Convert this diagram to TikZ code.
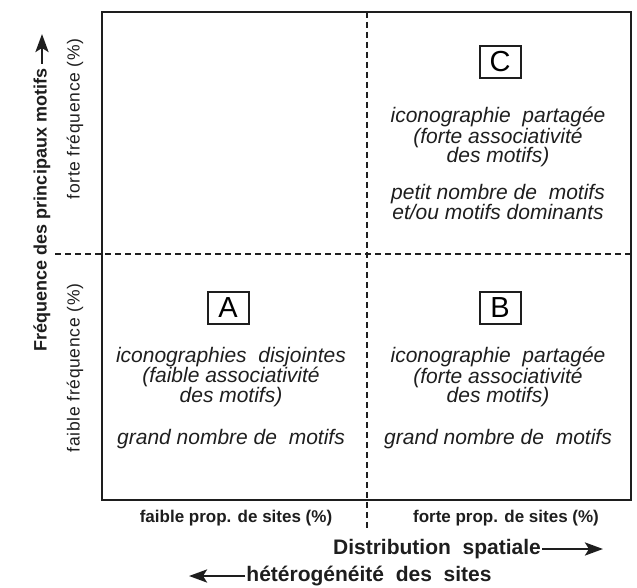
\documentclass[tikz,border=0pt]{standalone}
\usepackage{fontspec}
\setmainfont{Liberation Sans}
\newfontfamily\spacedfont[LetterSpace=4]{Liberation Sans}
\usetikzlibrary{shapes,arrows.meta,positioning}
\definecolor{inkgray}{RGB}{30,30,30}

\tikzset{
  quadrant/.style={draw=inkgray,line width=2pt},
  divider/.style={draw=inkgray,line width=2.4pt,dash pattern=on 6pt off 4pt},
  lettrebox/.style={draw=inkgray,line width=2pt,minimum width=41pt,minimum height=32pt,inner sep=0pt,font=\fontsize{29}{29}\selectfont},
  corps/.style={align=center,text=inkgray,font=\itshape\fontsize{21}{19.8}\selectfont},
  axe/.style={text=inkgray,font=\bfseries\fontsize{21}{21}\selectfont,inner sep=1pt},
  cote/.style={text=inkgray,font=\spacedfont\fontsize{17.5}{17.5}\selectfont},
  echelle/.style={text=inkgray,font=\bfseries\fontsize{17}{17}\selectfont},
  fleche/.style={-{Stealth[length=18pt,width=13pt,inset=4pt]},line width=2.8pt,draw=inkgray}
}

\begin{document}
\begin{tikzpicture}[x=1pt,y=-1pt]
\useasboundingbox (0,0) rectangle (637,588);
% cadre et axes de partage
\draw[quadrant] (102,12) rectangle (631,500);
\draw[divider] (55,254) -- (631,254);
\draw[divider] (367,12) -- (367,530);

% cases A, B, C
\node[lettrebox] (boxC) at (500,62) {C};
\node[corps] (textC1) at (498,137) {iconographie\ \ partagée\\(forte associativité\\des motifs)};
\node[corps] (textC2) at (498,202) {petit nombre de\ \ motifs\\et/ou motifs dominants};

\node[lettrebox] (boxA) at (228,308) {A};
\node[corps] (textA1) at (231,377) {iconographies\ \ disjointes\\(faible associativité\\des motifs)};
\node[corps] (textA2) at (231,439) {grand nombre de\ \ motifs};

\node[lettrebox] (boxB) at (500,308) {B};
\node[corps] (textB1) at (498,377) {iconographie\ \ partagée\\(forte associativité\\des motifs)};
\node[corps] (textB2) at (498,439) {grand nombre de\ \ motifs};

% axe vertical
\node[axe,rotate=90,font=\bfseries\fontsize{18}{18}\selectfont] (freq) at (42,210) {Fréquence des principaux motifs};
\coordinate (freqtip) at (42,34);
\draw[fleche] ([yshift=4pt]freq.east) -- (freqtip);
\node[cote,rotate=90] (forte) at (75,119) {forte fréquence (\%)};
\node[cote,rotate=90] (faible) at (75,368) {faible fréquence (\%)};

% axe horizontal
\node[echelle] (propf) at (236,518) {faible prop. de sites (\%)};
\node[echelle] (propF) at (506,518) {forte prop. de sites (\%)};
\node[axe] (distrib) at (437,549) {Distribution\ \ spatiale};
\coordinate (distribtip) at (603,549);
\draw[fleche] (distrib.east) -- (distribtip);
\node[axe] (hetero) at (369,576) {hétérogénéité\ \ des\ \ sites};
\coordinate (heterotip) at (189,576);
\draw[fleche] (hetero.west) -- (heterotip);
\end{tikzpicture}
\end{document}
